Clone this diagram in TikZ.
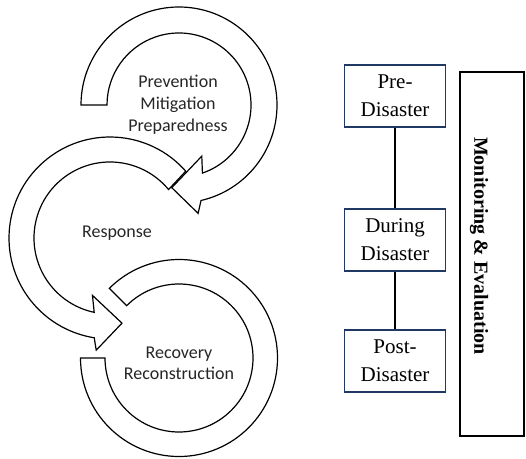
\documentclass[tikz,border=0pt]{standalone}
\usepackage{fontspec}
\setmainfont{Liberation Serif}
\newfontfamily\calfont{Carlito}
\usetikzlibrary{calc}
\definecolor{boxblue}{HTML}{203864}
\definecolor{txtgray}{HTML}{262626}
\tikzset{
  ring/.style={draw=black, line width=1.2pt, fill=white, line join=miter},
  cyctext/.style={align=center, text=txtgray, inner sep=0pt, font=\calfont\fontsize{18}{22}\selectfont},
  phasebox/.style={draw=boxblue, line width=1.5pt, minimum width=101pt, minimum height=62pt, inner sep=0pt, align=center, font=\fontsize{21}{28}\selectfont},
  conn/.style={draw=black, line width=1.3pt},
  merect/.style={draw=black, line width=1.3pt, minimum width=64pt, minimum height=364pt, inner sep=0pt},
  metext/.style={rotate=-90, inner sep=0pt, font=\bfseries\fontsize{20}{24}\selectfont}
}
\begin{document}
\begin{tikzpicture}[x=1pt,y=1pt]
\useasboundingbox (0,0) rectangle (526,458);
\coordinate (c1) at (179,353);
\coordinate (c2) at (110,220);
\coordinate (c3) at (179,100);

% Response arrow
\draw[ring] ($(c2)+(41.4:101)$) arc[start angle=41.4, end angle=261, radius=101]
  -- ($(c2)+(263:113)$) -- ($(c2)+(278:86)$) -- ($(c2)+(253:60)$)
  -- ($(c2)+(258:76)$) arc[start angle=258, end angle=39.6, radius=76] -- cycle;

% Recovery ring
\draw[ring] ($(c3)+(180:98.5)$) arc[start angle=180, end angle=495, radius=98.5]
  -- ($(c3)+(135:74)$) arc[start angle=495, end angle=180, radius=74] -- cycle;

% Prevention arrow
\draw[ring] ($(c1)+(180:98)$) arc[start angle=180, end angle=-77, radius=98]
  -- ($(c1)+(-80:110)$) -- ($(c1)+(-95:83)$) -- ($(c1)+(-66:56)$)
  -- ($(c1)+(-71:72)$) arc[start angle=-71, end angle=180, radius=72] -- cycle;

\node[cyctext] (prev) at (178,353) {Prevention\\Mitigation\\Preparedness};
\node[cyctext] (resp) at (117,225) {Response};
\node[cyctext, font=\calfont\fontsize{18}{21}\selectfont] (reco) at (179,95) {Recovery\\Reconstruction};

% Phases
\node[phasebox] (pre) at (395,362) {Pre-\\Disaster};
\node[phasebox] (during) at (395,218) {During\\Disaster};
\node[phasebox] (post) at (395,97) {Post-\\Disaster};
\draw[conn] (pre) -- (during);
\draw[conn] (during) -- (post);

\node[merect] (me) at (492,204) {};
\node[metext] (metxt) at (479,212) {Monitoring \& Evaluation};
\end{tikzpicture}
\end{document}
